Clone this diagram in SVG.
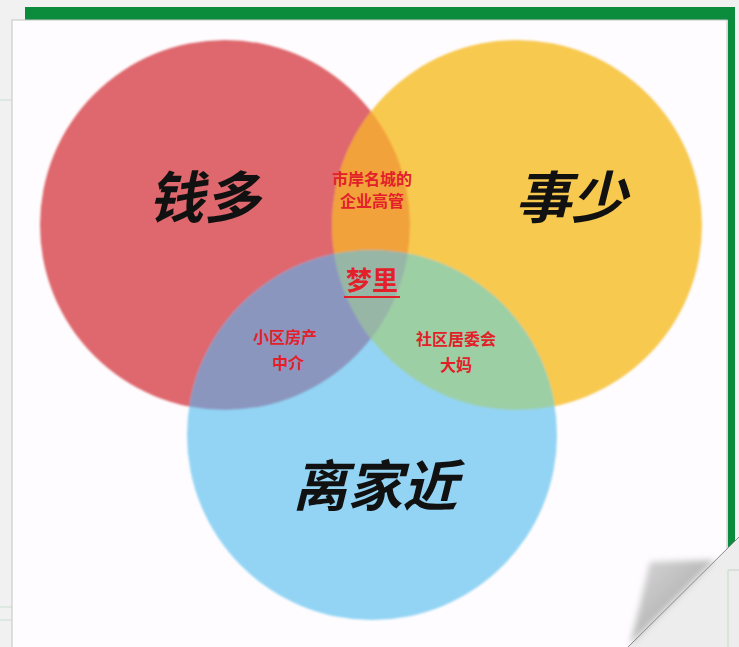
<svg xmlns="http://www.w3.org/2000/svg" width="739" height="647" viewBox="0 0 739 647">
<style>
.big{font-family:"Noto Sans CJK SC","Noto Sans",sans-serif;font-weight:bold;font-style:italic;fill:#111;text-anchor:middle;dominant-baseline:central}
.small{font-family:"Noto Sans CJK SC","Noto Sans",sans-serif;font-weight:bold;fill:#e3202a;text-anchor:middle;dominant-baseline:central;font-size:16px}
.dream{font-size:26px}
</style>
<defs>
<clipPath id="cR"><circle cx="225" cy="225" r="185"/></clipPath>
<clipPath id="cY"><circle cx="517" cy="225" r="185"/></clipPath>
<clipPath id="cB"><circle cx="372" cy="435" r="185"/></clipPath>
<linearGradient id="shadow" x1="0" y1="0" x2="1" y2="1">
<stop offset="0" stop-color="#d8d8d8"/>
<stop offset="0.6" stop-color="#b4b4b4"/>
<stop offset="1" stop-color="#9a9a9a"/>
</linearGradient>
<filter id="soft"><feGaussianBlur stdDeviation="0.8"/></filter>
<filter id="shblur"><feGaussianBlur stdDeviation="3"/></filter>
</defs>
<rect x="0" y="0" width="739" height="647" fill="#f1f1f1"/>
<g stroke="#d6e6da" stroke-width="1.5">
<line x1="0" y1="100" x2="12" y2="100"/>
<line x1="0" y1="607" x2="12" y2="607"/>
<line x1="0" y1="620" x2="12" y2="620"/>
</g>
<rect x="25" y="7" width="706" height="13" fill="#0b8c3c"/>
<rect x="728" y="7" width="7" height="540" fill="#0b8c3c"/>
<rect x="12" y="20" width="715" height="630" fill="#fefcfe" stroke="#c4c4c4" stroke-width="1"/>
<g id="venn" filter="url(#soft)">
<g id="circle-red"><circle cx="225" cy="225" r="185" fill="#de686d"/></g>
<g id="circle-yellow"><circle cx="517" cy="225" r="185" fill="#f8c94f"/></g>
<g id="circle-blue"><circle cx="372" cy="435" r="185" fill="#93d4f4"/></g>
<g clip-path="url(#cR)"><circle cx="517" cy="225" r="185" fill="#f2a23b"/></g>
<g clip-path="url(#cR)"><circle cx="372" cy="435" r="185" fill="#8b96bf"/></g>
<g clip-path="url(#cY)"><circle cx="372" cy="435" r="185" fill="#9ccfa4"/></g>
<g clip-path="url(#cR)"><g clip-path="url(#cY)"><circle cx="372" cy="435" r="185" fill="#97b6a6"/></g></g>
</g>
<g id="label-qianduo"><text class="big" x="204" y="193" font-size="56">钱多</text></g>
<g id="label-shishao"><text class="big" x="571" y="193" font-size="56">事少</text></g>
<g id="label-lijiajin"><text class="big" x="375" y="482" font-size="55">离家近</text></g>
<g id="label-ry"><text class="small" x="372" y="178">市岸名城的</text><text class="small" x="372" y="200">企业高管</text></g>
<g id="label-center"><text class="small dream" x="372" y="278">梦里</text><line x1="344" y1="297" x2="400" y2="297" stroke="#e3202a" stroke-width="2"/></g>
<g id="label-rb"><text class="small" x="285" y="336">小区房产</text><text class="small" x="288" y="362">中介</text></g>
<g id="label-yb"><text class="small" x="456" y="338">社区居委会</text><text class="small" x="456" y="364">大妈</text></g>
<g id="page-curl">
<polygon points="628,647 739,537 739,647" fill="#ededed"/>
<line x1="728" y1="570" x2="739" y2="570" stroke="#d0d8d2" stroke-width="1.5"/>
<line x1="728" y1="570" x2="728" y2="647" stroke="#cfe0d2" stroke-width="1.5"/>
<polygon points="630,645 715,560 650,562 640,605" fill="url(#shadow)" filter="url(#shblur)"/>
<line x1="628" y1="647" x2="739" y2="537" stroke="#8a8a8a" stroke-width="1"/>
</g>
</svg>
